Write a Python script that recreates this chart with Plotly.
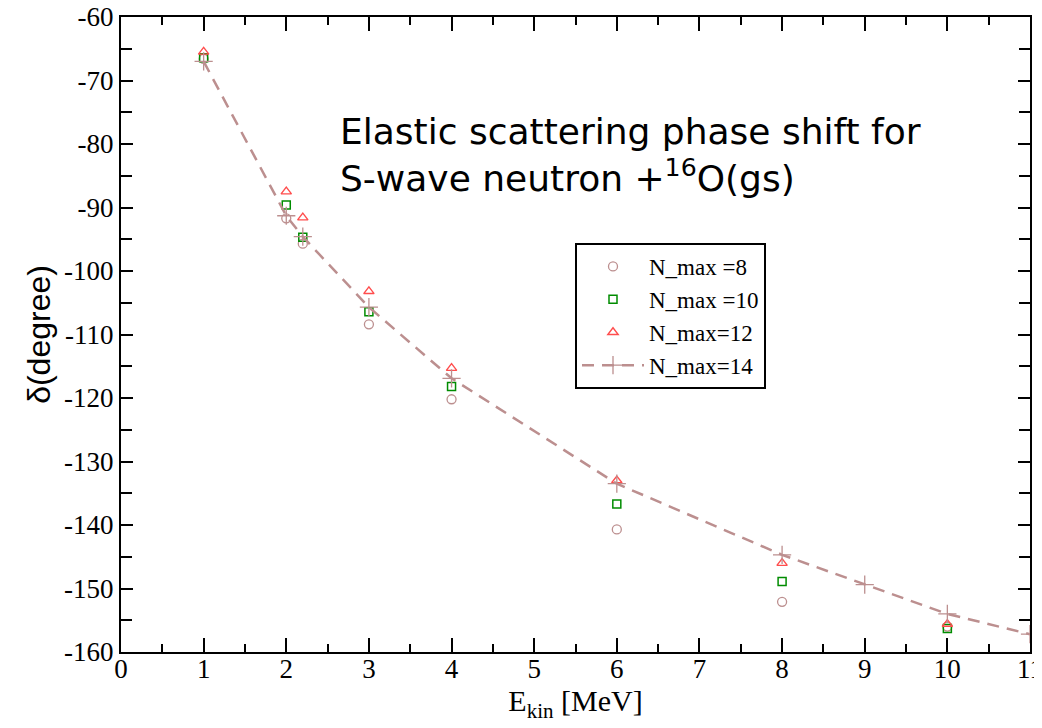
import plotly.graph_objects as go

# Data
e_pts = [1, 2, 2.2, 3, 4, 6, 8, 10]
nmax8 = [-66.6, -91.7, -95.7, -108.4, -120.2, -140.7, -152.1, -156.0]
nmax10 = [-66.4, -89.6, -94.7, -106.4, -118.2, -136.7, -148.9, -156.3]
nmax12 = [-65.5, -87.5, -91.6, -103.2, -115.3, -133.0, -146.0, -155.6]

e_14 = [1, 2, 2.2, 3, 4, 6, 8, 9, 10, 11]
nmax14 = [-67.0, -91.3, -94.6, -105.7, -116.9, -133.5, -144.7, -149.4, -154.0, -157.2]

x_ticks = list(range(0, 12))
x_labels = [str(v) for v in x_ticks]
y_ticks = list(range(-160, -59, 10))
y_labels = [str(v) for v in y_ticks]  # plain hyphen-minus as in the reference

# page body has an 8px margin, so the figure is drawn offset by (8, 8)
OFF = 8
W, H = 1042 - OFF, 728 - OFF
PL, PR, PT, PB = 121 - OFF, 1030 - OFF, 17 - OFF, 652 - OFF  # plot area in figure px

fig = go.Figure()
fig.add_trace(go.Scatter(
    x=e_pts, y=nmax8, mode="markers", name="N_max =8",
    marker=dict(symbol="circle-open", size=9, color="#bc8f8f", line=dict(width=1.3))))
fig.add_trace(go.Scatter(
    x=e_pts, y=nmax10, mode="markers", name="N_max =10",
    marker=dict(symbol="square-open", size=8, color="#008c00", line=dict(width=1.5))))
fig.add_trace(go.Scatter(
    x=e_pts, y=nmax12, mode="markers", name="N_max=12",
    marker=dict(symbol="triangle-up-open", size=9, color="#ff4d4d", line=dict(width=1.4))))
fig.add_trace(go.Scatter(
    x=e_14, y=nmax14, mode="lines+markers", name="N_max=14",
    line=dict(color="#bc8f8f", width=2.5, dash="12px,8px"),
    marker=dict(symbol="cross-thin-open", size=13, color="#bc8f8f", line=dict(width=1.3, color="#bc8f8f"))))


def px_x(x):
    return (x - OFF - PL) / (PR - PL)


def px_y(y):
    return (PB - (y - OFF)) / (PB - PT)


fig.add_annotation(
    x=px_x(338), y=px_y(155), xref="paper", yref="paper", showarrow=False,
    text="Elastic scattering phase shift for<br>S-wave neutron +<sup>16</sup>O(gs)",
    align="left", xanchor="left", yanchor="middle",
    font=dict(family="DejaVu Sans, sans-serif", size=36, color="black"))

serif = "Liberation Serif, Times New Roman, serif"
axis_common = dict(
    showline=True, linecolor="black", linewidth=2, mirror="ticks",
    ticks="inside", tickcolor="black", tickwidth=2,
    showgrid=False, zeroline=False, automargin=False,
    ticklabeloverflow="allow",
    tickfont=dict(family=serif, size=27, color="black"),
)

fig.update_xaxes(
    range=[0, 11], tickvals=x_ticks, ticktext=x_labels, ticklen=14,
    ticklabelstandoff=-8,
    minor=dict(dtick=0.5, ticks="inside", ticklen=8, tickwidth=2, tickcolor="black"),
    title=dict(text="E<sub>kin</sub> [MeV]", standoff=0,
               font=dict(family=serif, size=30, color="black")),
    **axis_common)
fig.update_yaxes(
    range=[-160, -60], tickvals=y_ticks, ticktext=y_labels, ticklen=12,
    minor=dict(dtick=5, ticks="inside", ticklen=11, tickwidth=2, tickcolor="black"),
    title=dict(text="δ(degree)", standoff=4,
               font=dict(family="Liberation Sans Narrow, Liberation Sans, Arial, sans-serif", size=32, color="black")),
    **axis_common)

fig.update_layout(
    width=W, height=H,
    margin=dict(l=PL, r=W - PR, t=PT, b=H - PB),
    plot_bgcolor="white", paper_bgcolor="white",
    showlegend=True,
    legend=dict(
        x=px_x(575), y=px_y(243), xanchor="left", yanchor="top",
        bordercolor="black", borderwidth=2, bgcolor="white",
        font=dict(family=serif, size=23, color="black"),
        tracegroupgap=0, itemwidth=62),
)

fig.write_html("out.html")
